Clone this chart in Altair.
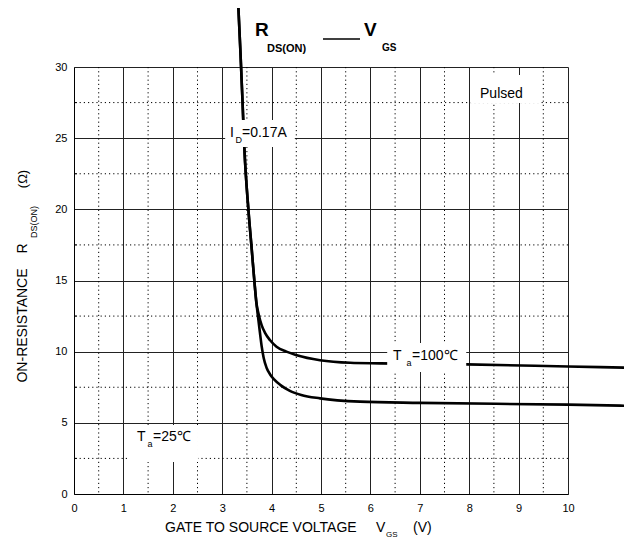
import altair as alt
import pandas as pd

# ---- curve data (V_GS in volts, R_DS(ON) in ohms) ----
shared_v = [3.31, 3.37, 3.41, 3.45, 3.53, 3.60, 3.66, 3.69]
shared_r = [35.5, 31.0, 27.7, 24.2, 20.0, 17.1, 14.6, 13.5]
hot_v = [3.74, 3.80, 3.87, 3.97, 4.10, 4.30, 4.51, 4.98, 5.59, 6.19, 7.95, 10.0, 11.4]
hot_r = [12.6, 11.85, 11.3, 10.8, 10.35, 10.0, 9.75, 9.4, 9.22, 9.18, 9.11, 8.96, 8.86]
cold_v = [3.72, 3.76, 3.80, 3.84, 3.90, 3.97, 4.05, 4.18, 4.37, 4.60, 4.98, 5.79, 7.0, 10.0, 11.4]
cold_r = [12.6, 11.45, 10.35, 9.55, 8.85, 8.4, 8.05, 7.65, 7.25, 6.96, 6.72, 6.49, 6.40, 6.28, 6.18]

x_major = [0, 1, 2, 3, 4, 5, 6, 7, 8, 9, 10]
y_major = [0, 5, 10, 15, 20, 25, 30]
x_minor = [0.5, 1.5, 2.5, 3.5, 4.5, 5.5, 6.5, 7.5, 8.5, 9.5]
y_minor = [2.5, 7.5, 12.5, 17.5, 22.5, 27.5]

FONT = "Liberation Sans"

rows = []
for i, (v, r) in enumerate(zip(shared_v + hot_v, shared_r + hot_r)):
    rows.append({"v": v, "r": r, "s": "100", "i": i})
for i, (v, r) in enumerate(zip(shared_v + cold_v, shared_r + cold_r)):
    rows.append({"v": v, "r": r, "s": "25", "i": i})
curves = pd.DataFrame(rows)

xs = alt.Scale(domain=[0, 10], nice=False, zero=False)
ys = alt.Scale(domain=[0, 30], nice=False, zero=False)
xaxis = alt.Axis(values=x_major, grid=True, gridColor="#222", gridWidth=1,
                 ticks=False, tickSize=0, domain=True, domainColor="#000",
                 labelFont=FONT, labelFontSize=11, labelColor="#000",
                 labelFlush=False, labelOverlap=False,
                 labelPadding=8, title=None)
yaxis = alt.Axis(values=y_major, grid=True, gridColor="#222", gridWidth=1,
                 ticks=False, tickSize=0, domain=True, domainColor="#000",
                 labelFont=FONT, labelFontSize=11, labelColor="#000",
                 labelFlush=False, labelOverlap=False,
                 labelPadding=7, title=None)


def X(f="v"):
    return alt.X(f"{f}:Q", scale=xs, axis=xaxis)


def Y(f="r"):
    return alt.Y(f"{f}:Q", scale=ys, axis=yaxis)


minor_x = alt.Chart(pd.DataFrame({"v": x_minor})).mark_rule(
    color="#000", strokeWidth=1, strokeDash=[1.2, 3]).encode(x=X())
minor_y = alt.Chart(pd.DataFrame({"r": y_minor})).mark_rule(
    color="#000", strokeWidth=1, strokeDash=[1.2, 3]).encode(y=Y())

ticks_y = alt.Chart(pd.DataFrame({"v": [0.0] * 6, "v2": [0.06] * 6, "r": y_minor})).mark_rule(
    color="#000", strokeWidth=1).encode(x=X(), x2="v2:Q", y=Y())

lines = alt.Chart(curves).mark_line(
    color="#000", strokeWidth=2.6, clip=False, interpolate="monotone").encode(
    x=X(), y=Y(), detail="s:N", order="i:Q")

# white boxes behind in-plot labels
boxes = pd.DataFrame({
    "v": [3.06, 6.34, 1.09, 8.02],
    "v2": [4.47, 7.94, 2.51, 9.43],
    "r": [26.28, 10.61, 4.85, 29.44],
    "r2": [24.38, 8.57, 2.25, 27.47],
})
rects = alt.Chart(boxes).mark_rect(fill="#fff", clip=False).encode(
    x=X(), x2="v2:Q", y=Y(), y2="r2:Q")

# title pieces
title_txt = pd.DataFrame({
    "v": [3.664, 3.907, 5.870, 6.235],
    "r": [32.18, 31.05, 32.18, 31.12],
    "t": ["R", "DS(ON)", "V", "GS"],
    "z": [19, 11, 19, 10],
})
title_layer = alt.Chart(title_txt).mark_text(
    font=FONT, fontWeight="bold", align="left", baseline="alphabetic",
    color="#000", clip=False).encode(
    x=X(), y=Y(), text="t:N", size=alt.Size("z:Q", scale=None, legend=None))

dash = alt.Chart(pd.DataFrame({"v": [5.04], "v2": [5.79], "r": [31.97]})).mark_rule(
    color="#000", strokeWidth=1.6, clip=False).encode(x=X(), x2="v2:Q", y=Y())

# horizontal normal text pieces
plain_txt = pd.DataFrame({
    "v": [3.158, 3.269, 3.401,
          6.457, 6.731, 6.842,
          1.275, 1.488, 1.599,
          8.219,
          1.842, 6.113, 6.316, 6.862],
    "r": [25.08, 24.63, 25.08,
          9.415, 8.99, 9.415,
          3.724, 3.30, 3.724,
          27.82,
          -2.67, -2.67, -3.02, -2.67],
    "t": ["I", "D", "=0.17A",
          "T", "a", "=100℃",
          "T", "a", "=25℃",
          "Pulsed",
          "GATE TO SOURCE VOLTAGE", "V", "GS", "(V)"],
    "z": [14, 9, 14,
          14, 9, 14,
          14, 9, 14,
          14,
          14, 14, 8, 14],
})
plain_layer = alt.Chart(plain_txt).mark_text(
    font=FONT, align="left", baseline="alphabetic", color="#000", clip=False).encode(
    x=X(), y=Y(), text="t:N", size=alt.Size("z:Q", scale=None, legend=None))

# rotated y-axis title pieces
rot_txt = pd.DataFrame({
    "v": [-0.951, -0.951, -0.749, -0.951],
    "r": [11.84, 17.25, 19.11, 22.13],
    "t": ["ON-RESISTANCE", "R", "DS(ON)", "(Ω)"],
    "z": [14, 14, 9, 13],
})
rot_layer = alt.Chart(rot_txt).mark_text(
    font=FONT, align="center", baseline="alphabetic", angle=270,
    color="#000", clip=False).encode(
    x=X(), y=Y(), text="t:N", size=alt.Size("z:Q", scale=None, legend=None))

chart = alt.layer(
    minor_x, minor_y, ticks_y, lines, rects, dash, title_layer, plain_layer, rot_layer
).properties(
    width=494, height=427,
    autosize=alt.AutoSizeParams(type="none"),
    padding={"left": 66, "top": 59, "right": 56, "bottom": 44},
    background="#ffffff",
).configure_view(stroke=None)

chart.save("out.html", embed_options={"renderer": "svg", "actions": False})
